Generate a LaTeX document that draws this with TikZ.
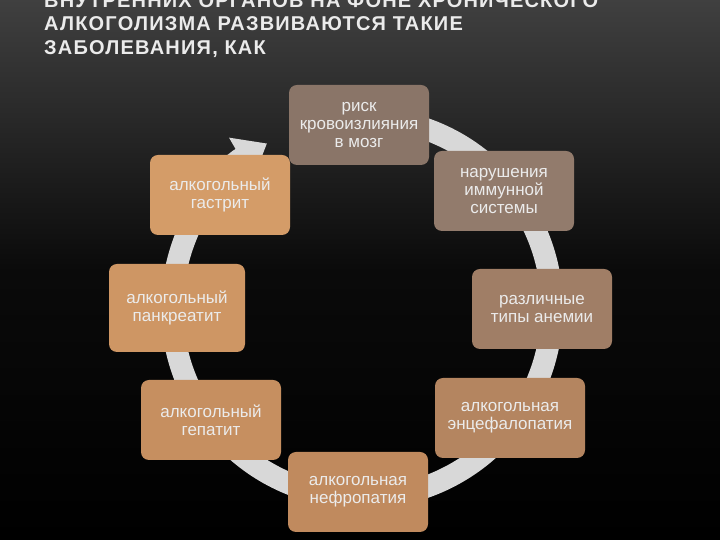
\documentclass[tikz,border=0pt]{standalone}
\usepackage{fontspec}
\setmainfont{Liberation Sans}
\newfontfamily\ttlfont[LetterSpace=6]{Liberation Sans}
\usetikzlibrary{arrows.meta}
\definecolor{bxa}{HTML}{8A7568}
\definecolor{bxb}{HTML}{927B6C}
\definecolor{bxc}{HTML}{A07E66}
\definecolor{bxd}{HTML}{B48560}
\definecolor{bxe}{HTML}{C08A5E}
\definecolor{bxf}{HTML}{C68F60}
\definecolor{bxg}{HTML}{CE9664}
\definecolor{bxh}{HTML}{D49C68}
\definecolor{ringc}{HTML}{D8D8D8}
\begin{document}
\begin{tikzpicture}[x=1pt,y=1pt,
  box/.style={rounded corners=8pt,minimum width=140pt,minimum height=80pt,align=center,
    text=white!92!black,font=\fontsize{17}{18}\selectfont,inner sep=1pt},
  ttl/.style={anchor=west,text=white!92!black,font=\ttlfont\bfseries\fontsize{20}{22}\selectfont,inner sep=0pt}]
\useasboundingbox (0,0) rectangle (720,540);
\clip (0,0) rectangle (720,540);
\shade[top color=black!75,bottom color=black,middle color=black!96] (0,0) rectangle (720,540);
\node[ttl] (t0) at (44,539) {ВНУТРЕННИХ ОРГАНОВ НА ФОНЕ ХРОНИЧЕСКОГО};
\node[ttl] (t1) at (44,516) {АЛКОГОЛИЗМА РАЗВИВАЮТСЯ ТАКИЕ};
\node[ttl] (t2) at (44,491) {ЗАБОЛЕВАНИЯ, КАК};
\coordinate (c) at (362,232);
\draw[ringc,line width=22pt,-{Triangle[width=46pt,length=30pt]}]
  ([shift={(75:190)}]c) arc[start angle=75,end angle=-240,radius=190];
\node[box,fill=bxa] (n1) at (359,415) {риск\\кровоизлияния\\в мозг};
\node[box,fill=bxb] (n2) at (504,349) {нарушения\\иммунной\\системы};
\node[box,fill=bxc] (n3) at (542,231) {различные\\типы анемии};
\node[box,fill=bxd,minimum width=150pt] (n4) at (510,122) {алкогольная\\энцефалопатия};
\node[box,fill=bxe] (n5) at (358,48) {алкогольная\\нефропатия};
\node[box,fill=bxf] (n6) at (211,120) {алкогольный\\гепатит};
\node[box,fill=bxg,minimum width=136pt,minimum height=88pt] (n7) at (177,232) {алкогольный\\панкреатит};
\node[box,fill=bxh] (n8) at (220,345) {алкогольный\\гастрит};
\end{tikzpicture}
\end{document}
